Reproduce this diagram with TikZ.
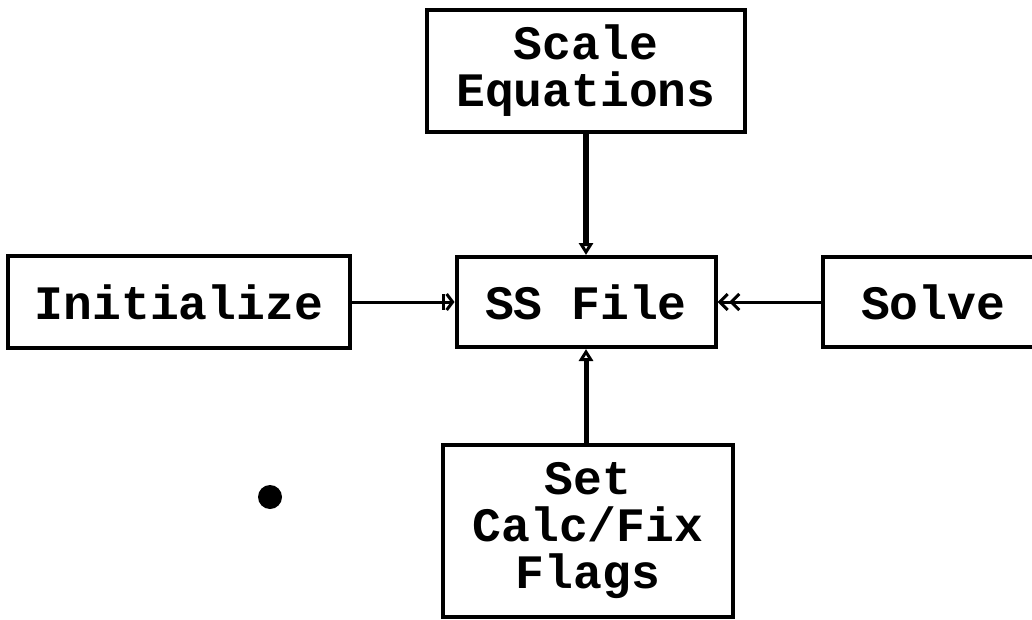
\documentclass[tikz,border=0pt]{standalone}
\usepackage{fontspec}
\setmonofont{Liberation Mono}
\usetikzlibrary{positioning,arrows.meta}

\tikzset{
  box/.style={draw,line width=2pt,inner sep=0pt,align=center,
    font=\ttfamily\bfseries\fontsize{24}{23.5}\selectfont},
}

\begin{document}
\begin{tikzpicture}[x=0.5pt,y=-0.5pt]
\useasboundingbox (0,0) rectangle (1032,620);
\node[box,minimum width=159pt,minimum height=61pt] (scale) at (586,71) {Scale\\Equations};
\node[box,minimum width=171pt,minimum height=46pt] (init) at (179,302) {Initialize};
\node[box,minimum width=129.5pt,minimum height=45pt] (ss) at (586,302) {SS File};
\node[box,minimum width=112pt,minimum height=45pt,text width=112pt,align=left] (solve) at (935,302) {\hspace{19pt}Solve};
\node[box,minimum width=145pt,minimum height=86pt] (flags) at (588,531) {Set\\Calc/Fix\\Flags};
\fill (270,497) circle (6pt);
\draw[-{Triangle[open,length=6pt,width=7pt]},line width=3pt] (scale) -- (ss);
\draw[-{Bar[width=8pt]Straight Barb[length=3pt,width=8pt]},line width=1.5pt] (init) -- (ss);
\draw[-{Straight Barb[length=4pt,width=8pt]Straight Barb[length=4pt,width=8pt]},line width=1.5pt] (solve) -- (ss);
\draw[-{Triangle[open,length=6pt,width=7pt]},line width=2.5pt] (flags.north -| ss.south) -- (ss);
\end{tikzpicture}
\end{document}
